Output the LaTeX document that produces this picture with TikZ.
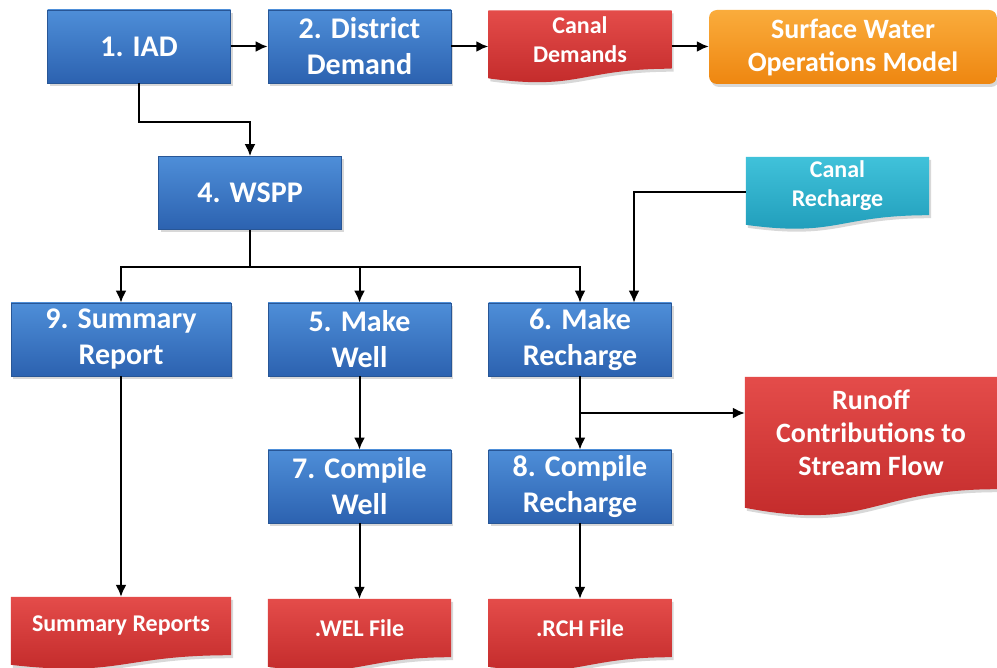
\documentclass[tikz,border=0pt]{standalone}
\usepackage{fontspec}
\setmainfont{Carlito}
\usepackage{tikz}
\usetikzlibrary{positioning}
\usetikzlibrary{calc}
\usetikzlibrary{arrows.meta}
\usetikzlibrary{shadows,backgrounds}

\definecolor{blueT}{RGB}{78,142,216}
\definecolor{blueB}{RGB}{44,98,176}
\definecolor{blueE}{RGB}{40,86,150}
\definecolor{redT}{RGB}{228,76,74}
\definecolor{redB}{RGB}{192,40,40}
\definecolor{orangeT}{RGB}{250,172,60}
\definecolor{orangeB}{RGB}{238,134,16}
\definecolor{cyanT}{RGB}{64,194,218}
\definecolor{cyanB}{RGB}{30,154,184}

\tikzset{
  box/.style={rectangle, minimum width=183pt, minimum height=73pt, inner sep=2pt,
    align=center, text=white, font=\bfseries\fontsize{30}{36}\selectfont},
  softshadow/.style={drop shadow={shadow xshift=2pt, shadow yshift=-3pt, opacity=0.3}},
  proc/.style={box, top color=blueT, bottom color=blueB, draw=blueE, line width=0.8pt, softshadow},
  doc/.style={box, minimum height=58pt, font=\bfseries\fontsize{24}{29}\selectfont},
  arr/.style={-{Latex[length=12pt,width=11pt]}, line width=2pt},
}

% document shape with a wavy bottom, filled behind the text node
\newcommand{\docfill}[3]{%
  \begin{pgfonlayer}{background}
  \path[top color=#2, bottom color=#3, softshadow]
    let \p1=($(#1.north)-(#1.south)$) in
    (#1.north west) -- (#1.north east) -- (#1.south east)
    .. controls (#1.south) and ([yshift={-0.38*\y1}]#1.south)
    .. ([yshift={-0.165*\y1}]#1.south west) -- cycle;
  \end{pgfonlayer}
}

\begin{document}
\begin{tikzpicture}[x=1pt,y=-1pt]
\begin{pgfonlayer}{background}
\fill[white] (0,0) rectangle (997,668);
\end{pgfonlayer}
\useasboundingbox (0,0) rectangle (997,668);

% top row
\node[proc] (iad) at (139,46.5) {1. IAD};
\node[proc] (district) at (359.5,46.5) {2. District\\Demand};
\node[doc] (canaldem) at (580,39.5) {Canal\\Demands};
\node[box, minimum width=288pt, minimum height=74pt, rounded corners=8pt,
  top color=orangeT, bottom color=orangeB, softshadow,
  font=\bfseries\fontsize{28}{33}\selectfont] (swom) at (853,47) {Surface Water\\Operations Model};

\node[proc] (wspp) at (250,193) {4. WSPP};
\node[doc] (canalrch) at (837.5,186) {Canal\\Recharge};

% middle rows
\node[proc, minimum width=220pt] (summary) at (121,339.5) {9. Summary\\Report};
\node[proc] (makewell) at (359.5,339.5) {5. Make\\Well};
\node[proc] (makerch) at (580,339.5) {6. Make\\Recharge};
\node[doc, minimum width=252pt, minimum height=112pt,
  font=\bfseries\fontsize{28}{33}\selectfont] (runoff) at (871,433) {Runoff\\Contributions to\\Stream Flow};
\node[proc] (compwell) at (359.5,486.5) {7. Compile\\Well};
\node[proc] (comprch) at (580,486.5) {8. Compile\\Recharge};

% output files
\node[doc, minimum width=220pt] (sumreps) at (121,626) {Summary Reports};
\node[doc] (wel) at (359.5,628) {.WEL File};
\node[doc] (rch) at (580,628) {.RCH File};

\docfill{canaldem}{redT}{redB}
\docfill{canalrch}{cyanT}{cyanB}
\docfill{runoff}{redT}{redB}
\docfill{sumreps}{redT}{redB}
\docfill{wel}{redT}{redB}
\docfill{rch}{redT}{redB}

% connectors
\draw[arr] (iad) -- (district);
\draw[arr] (district.east) -- (district.east -| canaldem.west);
\draw[arr] (district.east -| canaldem.east) -- (district.east -| swom.west);
\draw[arr] (iad.south) -- ++(0,39) -| (wspp.north);
\draw[line width=2pt] (wspp.south) -- ++(0,37) coordinate (split);
\foreach \n in {summary,makewell,makerch}
  \draw[arr] (split) -| (\n.north);
\draw[arr] ([yshift=-6pt]canalrch.west) -| ([xshift=54pt]makerch.north);
\draw[arr] (makerch) -- (comprch);
\coordinate (branch) at ($(makerch.south)!0.5!(comprch.north)$);
\draw[arr] (branch) -- (branch -| runoff.west);
\draw[arr] (makewell) -- (compwell);
\draw[arr] (summary) -- (sumreps);
\draw[arr] (compwell) -- (wel);
\draw[arr] (comprch) -- (rch);
\end{tikzpicture}
\end{document}
